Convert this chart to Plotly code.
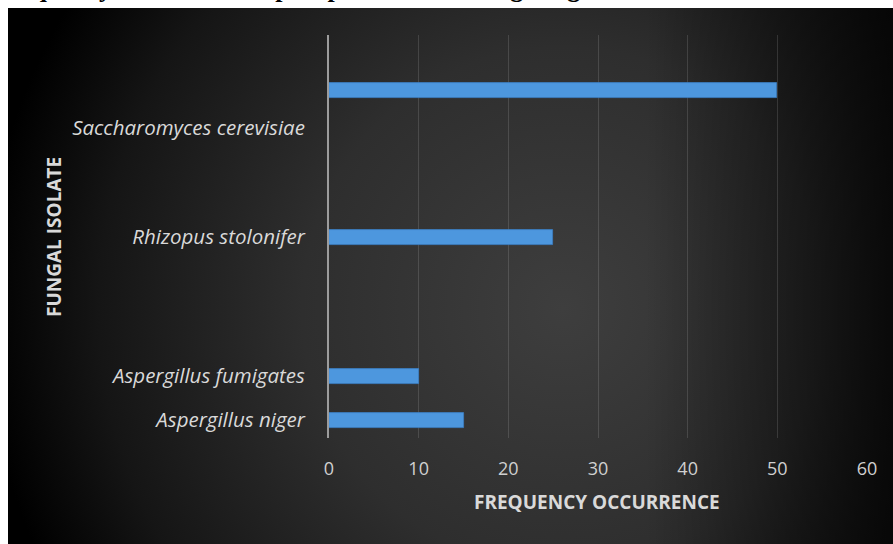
import base64
import plotly.graph_objects as go

# Frequency occurrence of each fungal isolate
isolates = ["Aspergillus niger", "Aspergillus fumigates", "Rhizopus stolonifer", "Saccharomyces cerevisiae"]
frequency = [15, 10, 25, 50]
x_ticks = [0, 10, 20, 30, 40, 50, 60]

# Vertical layout of the rows (axis units; axis spans 0..403)
bar_rows = [18, 62, 201, 348]
label_rows = [18, 62, 201, 310]

W, H = 893, 544
L, R, T, B = 329, 867, 35, 438  # plot area edges in px

# Dark radial backdrop as an inline SVG image
bg_w, bg_h = 885, 536
svg = f"""<svg xmlns='http://www.w3.org/2000/svg' width='{bg_w}' height='{bg_h}' viewBox='0 0 {bg_w} {bg_h}' preserveAspectRatio='none'>
<defs>
<radialGradient id='g' gradientUnits='userSpaceOnUse' cx='555' cy='300' r='580'>
<stop offset='0' stop-color='#3e3e3e'/>
<stop offset='0.45' stop-color='#2e2e2e'/>
<stop offset='0.8' stop-color='#151515'/>
<stop offset='1' stop-color='#000000'/>
</radialGradient>
<linearGradient id='r' x1='0' y1='0' x2='1' y2='0'>
<stop offset='0.72' stop-color='#000' stop-opacity='0'/>
<stop offset='1' stop-color='#000' stop-opacity='0.75'/>
</linearGradient>
</defs>
<rect width='{bg_w}' height='{bg_h}' fill='url(#g)'/>
<rect width='{bg_w}' height='{bg_h}' fill='url(#r)'/>
</svg>"""
bg_uri = "data:image/svg+xml;base64," + base64.b64encode(svg.encode()).decode()

pw, ph = R - L, B - T


def px_x(px):
    return (px - L) / pw


def px_y(py):
    return (B - py) / ph


fig = go.Figure()
fig.add_trace(go.Bar(
    x=frequency,
    y=bar_rows,
    orientation="h",
    width=15,
    marker=dict(color="#4d97de", line=dict(color="#3b7fc4", width=0.8)),
    hoverinfo="x",
))

label_font = dict(family="Open Sans", size=20.5, color="#d9d9d9", style="italic")

fig.update_layout(
    width=W,
    height=H,
    margin=dict(l=L, r=W - R, t=T, b=H - B),
    paper_bgcolor="white",
    plot_bgcolor="rgba(0,0,0,0)",
    showlegend=False,
    bargap=0,
    images=[dict(
        source=bg_uri,
        xref="paper", yref="paper",
        x=px_x(8), y=px_y(8),
        sizex=bg_w / pw, sizey=bg_h / ph,
        xanchor="left", yanchor="top",
        sizing="stretch",
        layer="below",
    )],
    xaxis=dict(
        range=[0, 60],
        tickvals=x_ticks,
        showgrid=True,
        gridcolor="rgba(255,255,255,0.13)",
        gridwidth=1,
        zeroline=False,
        showline=False,
        ticks="outside",
        ticklen=14,
        tickcolor="rgba(0,0,0,0)",
        tickfont=dict(family="Open Sans", size=18, color="#d0d0d0"),
        fixedrange=True,
    ),
    yaxis=dict(
        range=[0, ph],
        tickvals=label_rows,
        ticktext=isolates,
        showgrid=False,
        zeroline=False,
        showline=True,
        linecolor="#9c9c9c",
        linewidth=2,
        ticks="outside",
        ticklen=18,
        tickcolor="rgba(0,0,0,0)",
        tickfont=label_font,
        fixedrange=True,
    ),
    annotations=[
        dict(
            text="<b>FREQUENCY OCCURRENCE</b>",
            xref="paper", yref="paper",
            x=px_x(597), y=px_y(502),
            xanchor="center", yanchor="middle",
            showarrow=False,
            font=dict(family="Open Sans", size=19, color="#d9d9d9"),
        ),
        dict(
            text="<b>FUNGAL ISOLATE</b>",
            xref="paper", yref="paper",
            x=px_x(54), y=px_y(237),
            xanchor="center", yanchor="middle",
            textangle=-90,
            showarrow=False,
            font=dict(family="Open Sans", size=19, color="#d9d9d9"),
        ),
        dict(
            text="<b>Frequency occurrence of phosphate solubilizing fungal isolates</b>",
            xref="paper", yref="paper",
            x=px_x(-8), y=px_y(5),
            xanchor="left", yanchor="bottom",
            showarrow=False,
            font=dict(family="Liberation Serif", size=26, color="black"),
        ),
    ],
)

fig.write_html("out.html")
